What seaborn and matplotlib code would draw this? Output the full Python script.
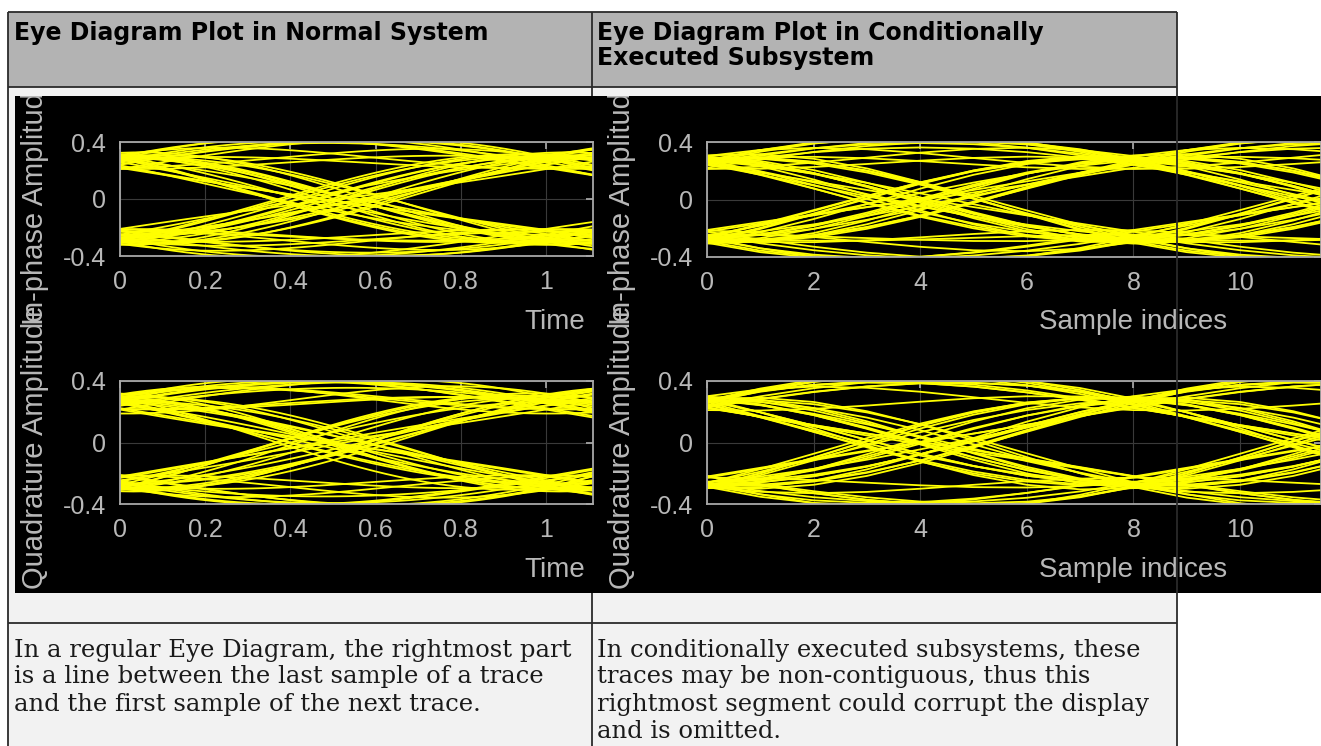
import numpy as np
import pandas as pd
import seaborn as sns
import matplotlib
matplotlib.use('Agg')
from matplotlib import pyplot as plt
from matplotlib.patches import Rectangle

# QPSK symbol streams (+1 / -1) behind each eye diagram
normal_i = [1, -1, -1, 1, 1, -1, 1, 1, -1, -1, -1, 1, -1, 1, 1, 1, -1, -1, 1, -1, 1, -1,
            -1, -1, 1, 1, -1, 1, -1, -1, 1, 1, 1, -1, 1, -1, -1, 1, 1, -1, 1, -1, 1, 1,
            -1, 1, 1, -1, -1, 1, -1, -1, -1, 1, 1, -1, 1, -1, 1, 1, -1, -1, 1, 1, 1, -1]
normal_q = [-1, -1, 1, 1, -1, 1, -1, -1, 1, 1, -1, -1, 1, 1, -1, 1, 1, -1, -1, -1, 1, -1,
            1, 1, 1, -1, -1, 1, -1, 1, 1, -1, -1, 1, -1, 1, 1, 1, -1, -1, 1, -1, -1, 1,
            1, -1, 1, -1, -1, -1, 1, 1, -1, 1, 1, -1, -1, 1, -1, 1, 1, 1, -1, 1, -1, -1]
cond_i = [1, 1, -1, 1, -1, -1, 1, -1, 1, 1, 1, -1, -1, 1, -1, 1, -1, -1, 1, 1, -1, 1,
          1, -1, -1, -1, 1, -1, 1, 1, -1, 1, -1, -1, 1, 1, -1, -1, 1, -1, 1, 1, -1, 1,
          -1, -1, 1, 1, 1, -1, 1, -1, -1, 1, -1, 1, 1, -1, -1, -1, 1, 1, -1, 1, -1, 1]
cond_q = [-1, 1, 1, -1, 1, -1, -1, 1, 1, -1, 1, 1, -1, -1, 1, -1, 1, 1, -1, 1, -1, -1,
          1, -1, 1, 1, 1, -1, -1, 1, -1, -1, 1, 1, -1, 1, 1, -1, -1, 1, -1, 1, 1, -1,
          1, 1, -1, -1, 1, -1, -1, -1, 1, 1, -1, 1, -1, 1, 1, -1, 1, -1, -1, 1, 1, -1]

level = 0.27      # nominal symbol amplitude
rolloff = 0.25    # rolloff of the root raised cosine transmit filter

time_ticks = [0, 0.2, 0.4, 0.6, 0.8, 1]
time_labels = ['0', '0.2', '0.4', '0.6', '0.8', '1']
sample_ticks = [0, 2, 4, 6, 8, 10]
sample_labels = ['0', '2', '4', '6', '8', '10']
amp_ticks = [-0.4, 0, 0.4]
amp_labels = ['-0.4', '0', '0.4']

header_left = 'Eye Diagram Plot in Normal System'
header_right = ['Eye Diagram Plot in Conditionally', 'Executed Subsystem']
note_left = ['In a regular Eye Diagram, the rightmost part',
             'is a line between the last sample of a trace',
             'and the first sample of the next trace.']
note_right = ['In conditionally executed subsystems, these',
              'traces may be non-contiguous, thus this',
              'rightmost segment could corrupt the display',
              'and is omitted.']

W, H = 1321, 746
FG = '#b8b8b8'
SPINE = '#a8a8a8'
LINE = '#2b2b2b'
LIGHT = '#f2f2f2'


def rrc(t, beta):
    t = np.asarray(t, dtype=float)
    h = np.empty_like(t)
    zero = np.isclose(t, 0)
    edge = np.isclose(np.abs(t), 1 / (4 * beta))
    rest = ~(zero | edge)
    tr = t[rest]
    h[rest] = (np.sin(np.pi * tr * (1 - beta)) + 4 * beta * tr * np.cos(np.pi * tr * (1 + beta))) / \
              (np.pi * tr * (1 - (4 * beta * tr) ** 2))
    h[zero] = 1 - beta + 4 * beta / np.pi
    h[edge] = beta / np.sqrt(2) * ((1 + 2 / np.pi) * np.sin(np.pi / (4 * beta)) +
                                   (1 - 2 / np.pi) * np.cos(np.pi / (4 * beta)))
    return h / (1 - beta + 4 * beta / np.pi)


def eye_traces(symbols, sps, scale):
    n = len(symbols)
    t = np.arange(n * sps) / sps
    wave = level * sum(a * rrc(t - k, rolloff) for k, a in enumerate(symbols))
    parts = []
    for k in range(5, n - 5):
        seg = wave[k * sps: k * sps + 2 * sps + 1]
        parts.append(pd.DataFrame({'x': np.arange(len(seg)) * scale, 'amp': seg, 'trace': k}))
    return pd.concat(parts, ignore_index=True)


sns.set_theme(style='white')
plt.rcParams['font.family'] = ['Liberation Sans', 'DejaVu Sans']
plt.rcParams['axes.unicode_minus'] = False

fig = plt.figure(figsize=(W / 100, H / 100), dpi=100)
fig.patch.set_facecolor('white')


def px_axes(x0, y0, x1, y1):
    return fig.add_axes([x0 / W, 1 - y1 / H, (x1 - x0) / W, (y1 - y0) / H])


# background: the two black screenshots
bg = px_axes(0, 0, W, H)
bg.set_xlim(0, W)
bg.set_ylim(H, 0)
bg.axis('off')
bg.set_zorder(-5)
bg.add_patch(Rectangle((15, 96), 585, 497, color='black', lw=0))
bg.add_patch(Rectangle((599, 96), 722, 497, color='black', lw=0))

panels = [
    # symbols, sps, x scale, box (x0, y0, x1, y1), xlim, ticks, labels, ylabel, ylabel px, xlabel, xlabel px
    (normal_i, 32, 1 / 32, (120, 142, 593, 256), 1.11, time_ticks, time_labels,
     'In-phase Amplitude', (35, 200), 'Time', (555, 322)),
    (normal_q, 32, 1 / 32, (120, 381, 593, 504), 1.11, time_ticks, time_labels,
     'Quadrature Amplitude', (35, 447), 'Time', (555, 570)),
    (cond_i, 8, 1, (707, 142, W, 257), (W - 707) / 53.3, sample_ticks, sample_labels,
     'In-phase Amplitude', (622, 200), 'Sample indices', (1133, 322)),
    (cond_q, 8, 1, (707, 381, W, 504), (W - 707) / 53.3, sample_ticks, sample_labels,
     'Quadrature Amplitude', (622, 447), 'Sample indices', (1133, 570)),
]

for sym, sps, scale, box, xmax, ticks, labels, ylab, ypos, xlab, xpos in panels:
    x0, y0, x1, y1 = box
    ax = px_axes(x0, y0, x1, y1)
    df = eye_traces(sym, sps, scale)
    sns.lineplot(data=df, x='x', y='amp', units='trace', estimator=None, sort=False,
                 color='#ffff00', lw=1.3, ax=ax, legend=False)
    ax.set_facecolor('black')
    ax.set_xlim(0, xmax)
    ax.set_ylim(-0.4, 0.4)
    ax.set_xticks(ticks)
    ax.set_xticklabels(labels)
    ax.set_yticks(amp_ticks)
    ax.set_yticklabels(amp_labels)
    ax.grid(True, color='#3a3a3a', lw=0.8)
    ax.set_axisbelow(True)
    for s in ax.spines.values():
        s.set_color(SPINE)
        s.set_linewidth(1.3)
    ax.tick_params(direction='in', length=5, color=SPINE, labelcolor=FG, labelsize=18,
                   pad=10, top=True, right=True)
    ax.set_ylabel(ylab, fontsize=21, color=FG, va='center', ha='center')
    ax.yaxis.set_label_coords((ypos[0] - x0) / (x1 - x0), (y1 - ypos[1]) / (y1 - y0))
    ax.set_xlabel(xlab, fontsize=20, color=FG, va='center', ha='center')
    ax.xaxis.set_label_coords((xpos[0] - x0) / (x1 - x0), (y1 - xpos[1]) / (y1 - y0))

# overlay: the table around the screenshots
ov = px_axes(0, 0, W, H)
ov.set_xlim(0, W)
ov.set_ylim(H, 0)
ov.axis('off')
ov.set_zorder(10)
ov.patch.set_alpha(0)

for rect, col in [((0, 0, W, 12), 'white'), ((0, 0, 8, H), 'white'),
                  ((1177, 0, W - 1177, 96), 'white'), ((1177, 593, W - 1177, H - 593), 'white'),
                  ((8, 12, 1169, 75), '#b3b3b3'), ((8, 87, 1169, 9), LIGHT),
                  ((8, 96, 7, 497), LIGHT), ((8, 593, 1169, H - 593), LIGHT)]:
    ov.add_patch(Rectangle(rect[:2], rect[2], rect[3], color=col, lw=0))

for xs, ys in [([8, 1177], [12, 12]), ([8, 1177], [87, 87]), ([8, 1177], [623, 623]),
               ([8, 8], [12, H]), ([1177, 1177], [12, H]),
               ([592, 592], [12, 96]), ([592, 592], [593, H])]:
    ov.plot(xs, ys, color=LINE, lw=1.3, solid_capstyle='butt')

ov.text(14, 33, header_left, fontsize=17, fontweight='bold', family='DejaVu Sans',
        va='center', ha='left', color='black')
for i, line in enumerate(header_right):
    ov.text(597, 33 + 25 * i, line, fontsize=17, fontweight='bold', family='DejaVu Sans',
            va='center', ha='left', color='black')
for i, line in enumerate(note_left):
    ov.text(14, 650 + 27 * i, line, fontsize=17.5, family='DejaVu Serif',
            va='center', ha='left', color='#1a1a1a')
for i, line in enumerate(note_right):
    ov.text(597, 650 + 27 * i, line, fontsize=17.5, family='DejaVu Serif',
            va='center', ha='left', color='#1a1a1a')

fig.savefig('out.png', dpi=100)
